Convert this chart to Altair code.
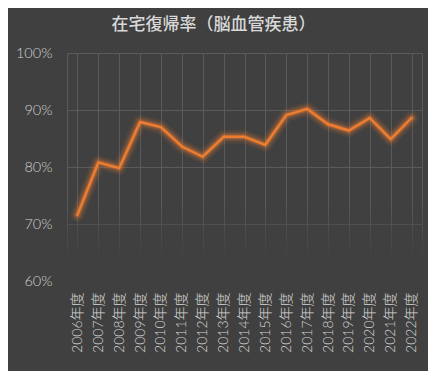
import altair as alt
import pandas as pd

years = ["2006年度", "2007年度", "2008年度", "2009年度", "2010年度", "2011年度",
         "2012年度", "2013年度", "2014年度", "2015年度", "2016年度", "2017年度",
         "2018年度", "2019年度", "2020年度", "2021年度", "2022年度"]
rates = [71.6, 80.8, 79.8, 87.9, 87.0, 83.6, 81.8, 85.3, 85.3, 83.9, 89.1, 90.2,
         87.5, 86.4, 88.6, 84.9, 88.6]
y_ticks = [60, 70, 80, 90, 100]

BG = "#404040"
GRID = "#5a5a5a"
ORANGE = "#ED7D31"
W, H = 355, 228

df = pd.DataFrame({"year": years, "rate": rates})

x_enc = alt.X("year:N", sort=years,
              scale=alt.Scale(paddingInner=0, paddingOuter=0),
              axis=alt.Axis(title=None, labelAngle=-90, ticks=False, domain=False,
                            grid=True, bandPosition=0, gridColor=GRID, gridWidth=1,
                            labelPadding=11, labelFontSize=14, labelColor="#d6d6d6",
                            labelFontWeight=300,
                            labelFont="Lato, 'Noto Sans CJK JP'"))
y_enc = alt.Y("rate:Q", scale=alt.Scale(domain=[60, 100], nice=False, zero=False),
              axis=alt.Axis(title=None, values=y_ticks, ticks=False, domain=False,
                            grid=True, gridColor=GRID, gridWidth=1,
                            labelExpr="datum.value + '%'", labelPadding=15,
                            labelFontWeight=300,
                            labelFontSize=14.5, labelColor="#d0d0d0", labelFont="Lato"))

base = alt.Chart(df)

glow_layers = []
for w, op in [(14, 0.08), (10, 0.12), (7, 0.18), (4.5, 0.3)]:
    glow_layers.append(
        base.mark_line(color=ORANGE, strokeWidth=w, opacity=op,
                       strokeJoin="round", strokeCap="round")
        .encode(x=x_enc, y=y_enc)
    )

main_line = base.mark_line(color=ORANGE, strokeWidth=2.4, strokeJoin="round",
                           strokeCap="round").encode(x=x_enc, y=y_enc)

fade = alt.Chart(pd.DataFrame({"top": [74]})).mark_rect(
    color=alt.Gradient(
        gradient="linear",
        stops=[alt.GradientStop(color="rgba(64,64,64,0)", offset=0),
               alt.GradientStop(color="rgba(64,64,64,1)", offset=0.7),
               alt.GradientStop(color="rgba(64,64,64,1)", offset=1)],
        x1=0, x2=0, y1=0, y2=1)
).encode(
    x=alt.value(-2), x2=alt.value(W + 2),
    y=alt.Y("top:Q", scale=alt.Scale(domain=[60, 100], nice=False, zero=False)),
    y2=alt.value(H + 3),
)

chart = alt.layer(fade, *glow_layers, main_line).properties(
    width=W, height=H,
    background=BG,
    padding={"left": 59, "top": 45, "right": 6, "bottom": 90},
    autosize=alt.AutoSizeParams(type="none"),
    title=alt.TitleParams(
        "在宅復帰率（脳血管疾患）",
        font="Noto Sans CJK JP", fontSize=17, fontWeight=500, color="#d9d9d9",
        anchor="middle", dx=-31, offset=11,
    ),
).configure_view(stroke=GRID, strokeWidth=1)

chart.save("out.html", embed_options={"renderer": "svg", "actions": False})
